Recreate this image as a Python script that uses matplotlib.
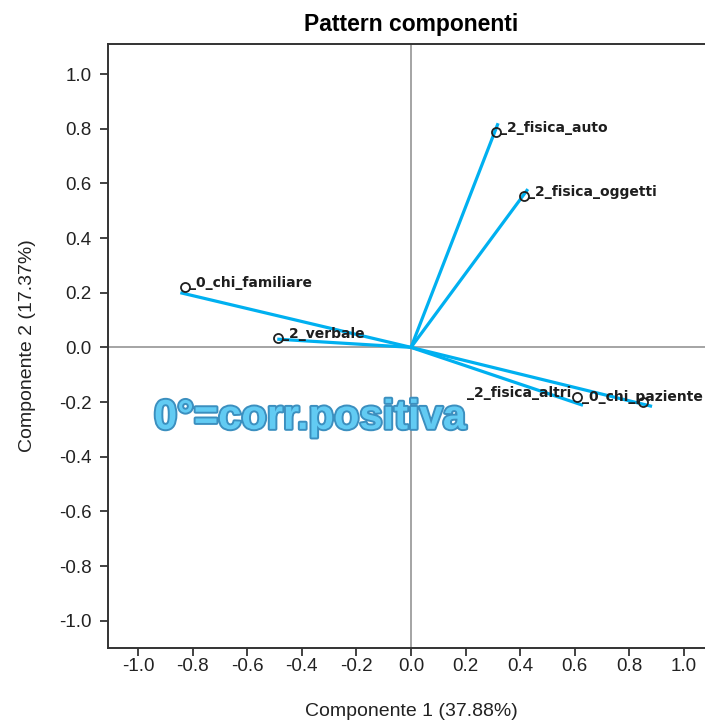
import matplotlib
matplotlib.use("Agg")
import matplotlib.pyplot as plt
import matplotlib.patheffects as pe
import numpy as np

# loadings (circle positions)
variables = ["0_chi_familiare", "2_verbale", "2_fisica_auto", "2_fisica_oggetti",
             "2_fisica_altri", "0_chi_paziente"]
comp1 = [-0.828, -0.487, 0.311, 0.414, 0.608, 0.850]
comp2 = [0.220, 0.033, 0.787, 0.553, -0.183, -0.200]

# hand-drawn vector tips (slightly past the points)
vec_x = [-0.845, -0.490, 0.319, 0.428, 0.630, 0.883]
vec_y = [0.200, 0.030, 0.820, 0.579, -0.212, -0.216]

title = "Pattern componenti"
xlabel = "Componente 1 (37.88%)"
ylabel = "Componente 2 (17.37%)"
ticks = [-1.0, -0.8, -0.6, -0.4, -0.2, 0.0, 0.2, 0.4, 0.6, 0.8, 1.0]
note = "0°=corr.positiva"

plt.rcParams['font.family'] = ['Liberation Sans', 'DejaVu Sans']

fig = plt.figure(figsize=(7.05, 7.2), dpi=100)
ax = fig.add_axes([0.1532, 0.10, 0.8596, 0.8389])

ax.axhline(0, color='#8c8c8c', lw=1.1, zorder=1)
ax.axvline(0, color='#8c8c8c', lw=1.1, zorder=1)

blue = '#00B0F0'
for vx, vy in zip(vec_x, vec_y):
    ax.plot([0, vx], [0, vy], color=blue, lw=2.3, solid_capstyle='butt', zorder=3)

ax.plot(comp1, comp2, 'o', ms=6.5, mfc='none', mec='#202020', mew=1.3, zorder=4)

# label placement: (dx, dy in points, ha)
offsets = [(3, 0.5, 'left'), (3, 0.5, 'left'), (3, 0.5, 'left'), (3, 0.5, 'left'),
           (-4, 0.5, 'right'), (-44, 0.5, 'left')]
for name, x, y, (dx, dy, ha) in zip(variables, comp1, comp2, offsets):
    ax.annotate("_" + name, (x, y), xytext=(dx, dy), textcoords='offset points',
                ha=ha, va='baseline', fontsize=10, fontweight='bold',
                family=['DejaVu Sans'], color='#1e1e1e', zorder=5)

ax.text(-0.37, -0.258, note, ha='center', va='center', fontsize=30,
        fontweight='bold', color='#62cbf3', zorder=6,
        path_effects=[pe.Stroke(linewidth=2.8, foreground='#3b8fbf'), pe.Normal()])

ax.set_xlim(-1.11, 1.11)
ax.set_ylim(-1.10, 1.11)
ax.set_xticks(ticks)
ax.set_yticks(ticks)
ax.set_xticklabels([f"{t:.1f}" for t in ticks])
ax.set_yticklabels([f"{t:.1f}" for t in ticks])
ax.tick_params(direction='out', length=6, width=1.2, labelsize=13.5, colors='#222222')
ax.tick_params(axis='x', pad=1.5)
ax.tick_params(axis='y', pad=6)
for s in ax.spines.values():
    s.set_linewidth(1.4)
    s.set_color('#333333')

ax.set_title(title, fontsize=16.5, fontweight='bold', pad=9)
ax.set_xlabel(xlabel, fontsize=14, labelpad=20, color='#222222')
ax.set_ylabel(ylabel, fontsize=14, labelpad=16, color='#222222')

fig.savefig("out.png", dpi=100)
